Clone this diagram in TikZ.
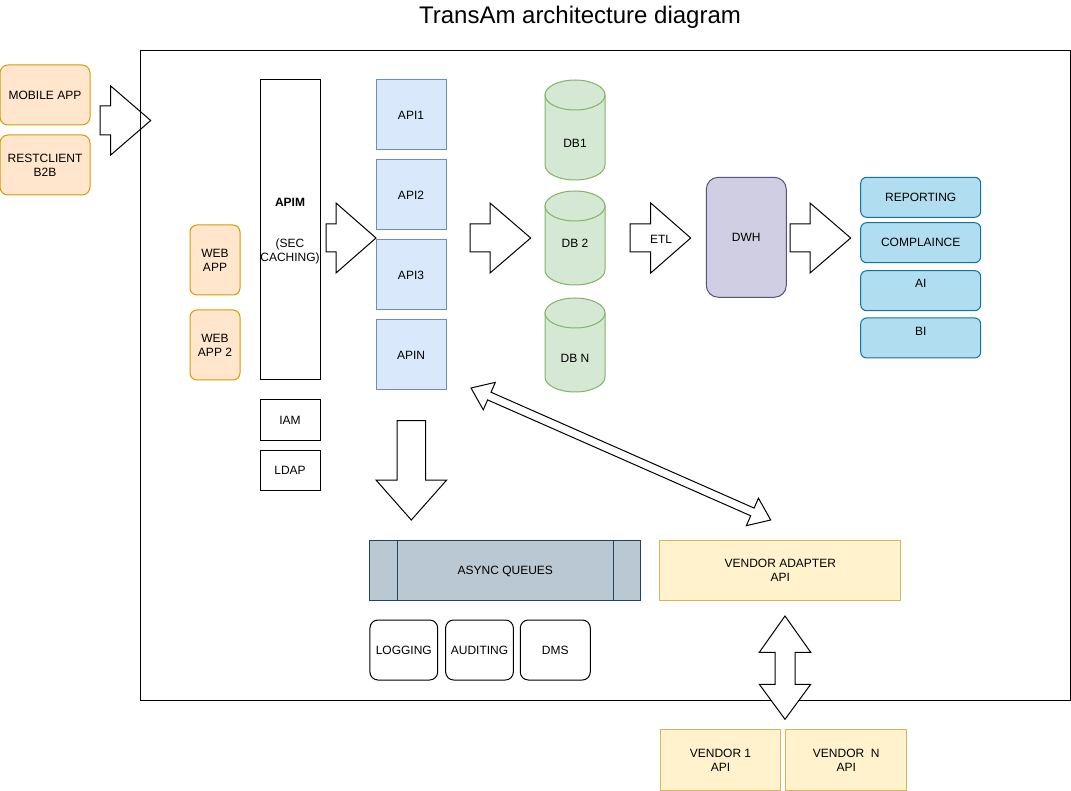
\documentclass[tikz,border=0pt]{standalone}
\usepackage{fontspec}
\setmainfont{Liberation Sans}
\usetikzlibrary{calc}
\definecolor{orF}{HTML}{FFE6CC}\definecolor{orS}{HTML}{D79B00}
\definecolor{blF}{HTML}{DAE8FC}\definecolor{blS}{HTML}{6C8EBF}
\definecolor{grF}{HTML}{D5E8D4}\definecolor{grS}{HTML}{82B366}
\definecolor{puF}{HTML}{D0CEE2}\definecolor{puS}{HTML}{56517E}
\definecolor{cyF}{HTML}{B1DDF0}\definecolor{cyS}{HTML}{10739E}
\definecolor{slF}{HTML}{BAC8D3}\definecolor{slS}{HTML}{23445D}
\definecolor{yeF}{HTML}{FFF2CC}\definecolor{yeS}{HTML}{D6B656}
\tikzset{
  base/.style={line width=1pt, inner sep=0pt, align=center, font=\fontsize{12}{14}\selectfont},
  boxbase/.style={base, text depth=-3.4pt},
  orbox/.style={boxbase, draw=orS, fill=orF, rounded corners=8pt},
  plainbox/.style={boxbase, draw=black, fill=white},
  apibox/.style={boxbase, draw=blS, fill=blF},
  repbox/.style={boxbase, draw=cyS, fill=cyF, rounded corners=6pt},
  yebox/.style={boxbase, draw=yeS, fill=yeF},
  roundbox/.style={boxbase, draw=black, fill=white, rounded corners=8pt},
  blockarrow/.style={line width=1pt, draw=black, fill=white, line join=miter},
  cylbody/.style={line width=1pt, draw=grS, fill=grF},
  txt/.style={base, draw=none, fill=none},
}
\begin{document}
\begin{tikzpicture}[x=1pt,y=-1pt]
\path[use as bounding box] (0,0) rectangle (1071,791);

% title
\node[txt, font=\fontsize{24}{28}\selectfont] (title) at (580,17) {TransAm architecture diagram};

% mobile arrow (behind container)
\draw[blockarrow] (100,106) -- (110.7,106) -- (110.7,86) -- (150.7,120.5) -- (110.7,155) -- (110.7,135) -- (100,135) -- cycle;

% container
\node[base, draw=black, minimum width=930, minimum height=650, anchor=north west] (container) at (140,50) {};

% left clients
\node[orbox, minimum width=90, minimum height=60] (mobile) at (45,95) {MOBILE APP};
\node[orbox, minimum width=90, minimum height=60] (rest) at (45,165) {RESTCLIENT\\B2B};
\node[orbox, minimum width=50, minimum height=70, rounded corners=7pt] (web1) at (215,260) {WEB\\APP};
\node[orbox, minimum width=50, minimum height=70, rounded corners=7pt] (web2) at (215,345) {WEB\\APP 2};

% APIM
\node[plainbox, minimum width=60, minimum height=300] (apim) at (290,230) {};
\node[txt] (apimT) at (290,202) {\textbf{APIM}};
\node[txt] (apimS) at (290,251.5) {(SEC\\CACHING)};
\node[plainbox, minimum width=60, minimum height=40] (iam) at (290,420) {IAM};
\node[plainbox, minimum width=60, minimum height=40] (ldap) at (290,470) {LDAP};

% APIM -> API arrow
\draw[blockarrow] (326,224) -- (336,224) -- (336,203) -- (376,238) -- (336,273) -- (336,252) -- (326,252) -- cycle;

% APIs
\node[apibox, minimum width=70, minimum height=70] (api1) at (411,115) {API1};
\node[apibox, minimum width=70, minimum height=70] (api2) at (411,195) {API2};
\node[apibox, minimum width=70, minimum height=70] (api3) at (411,275) {API3};
\node[apibox, minimum width=70, minimum height=70] (apin) at (411,355) {APIN};

% API -> DB arrow
\draw[blockarrow] (470,224) -- (490,224) -- (490,203) -- (530.7,238) -- (490,273) -- (490,252) -- (470,252) -- cycle;

% cylinders
\foreach \nm/\ya/\yb/\ty/\lab in {db1/80/180/143/DB1, db2/191/285/243/DB 2, dbn/298/392/358/DB N}{
  \pgfmathsetmacro{\yt}{\ya+15}
  \pgfmathsetmacro{\ybb}{\yb-15}
  \pgfmathsetmacro{\ybc}{\yb-15+8.28}
  \path[cylbody] (545,\yt) -- (545,\ybb) .. controls (545,\ybc) and (558.4,\yb) .. (575,\yb) .. controls (591.6,\yb) and (605,\ybc) .. (605,\ybb) -- (605,\yt) -- cycle;
  \path[cylbody] (575,\yt) ellipse [x radius=30, y radius=15];
  \node[txt] (\nm) at (575,\ty) {\lab};
}

% ETL arrow
\draw[blockarrow] (630,224) -- (650.7,224) -- (650.7,203) -- (690.7,238) -- (650.7,273) -- (650.7,252) -- (630,252) -- cycle;
\node[txt] (etl) at (661,239) {ETL};

% DWH
\node[boxbase, draw=puS, fill=puF, rounded corners=12pt, minimum width=80, minimum height=120] (dwh) at (746.3,237.3) {DWH};

% DWH -> reports arrow
\draw[blockarrow] (790,224) -- (810,224) -- (810,203) -- (850.7,238) -- (810,273) -- (810,252) -- (790,252) -- cycle;

% reports
\node[repbox, minimum width=120, minimum height=40] (rep) at (920.7,197.3) {REPORTING};
\node[repbox, minimum width=120, minimum height=40] (comp) at (920.7,242.7) {COMPLAINCE};
\node[repbox, minimum width=120, minimum height=40] (ai) at (920.7,290.7) {};
\node[txt] (aiT) at (920.7,283.5) {AI};
\node[repbox, minimum width=120, minimum height=40] (bi) at (920.7,338) {};
\node[txt] (biT) at (920.7,331) {BI};

% down arrow to queues
\draw[blockarrow] (397,420.7) -- (425.7,420.7) -- (425.7,480) -- (446.7,480) -- (411.3,520) -- (376,480) -- (397,480) -- cycle;

% async queues
\node[boxbase, draw=slS, fill=slF, minimum width=270.7, minimum height=60] (queues) at (505.3,570.3) {ASYNC QUEUES};
\draw[line width=1pt, draw=slS] (397.3,540.3) -- (397.3,600.3) (613.3,540.3) -- (613.3,600.3);

% bottom services
\node[roundbox, minimum width=67.7, minimum height=60] (logging) at (403.8,650) {LOGGING};
\node[roundbox, minimum width=67.7, minimum height=60] (auditing) at (479.5,650) {AUDITING};
\node[roundbox, minimum width=70, minimum height=60] (dms) at (555.3,650) {DMS};

% vendor adapter
\node[yebox, minimum width=240.7, minimum height=60] (adapter) at (780.3,570.2) {VENDOR ADAPTER\\API};

% diagonal double arrow
\coordinate (dA) at (471,388);
\coordinate (dB) at (770.7,520);
\coordinate (hA) at ($(dA)!20pt!(dB)$);
\coordinate (hB) at ($(dB)!20pt!(dA)$);
\draw[blockarrow] (dA) -- ($(hA)!15pt!90:(dB)$) -- ($(hA)!4.2pt!90:(dB)$) -- ($(hB)!4.2pt!-90:(dA)$) -- ($(hB)!15pt!-90:(dA)$) -- (dB) -- ($(hB)!15pt!90:(dA)$) -- ($(hB)!4.2pt!90:(dA)$) -- ($(hA)!4.2pt!-90:(dB)$) -- ($(hA)!15pt!-90:(dB)$) -- cycle;

% vertical double arrow
\draw[blockarrow] (785,616) -- (810.7,652.3) -- (795,652.3) -- (795,684.3) -- (810.7,684.3) -- (785,719.3) -- (759.3,684.3) -- (775,684.3) -- (775,652.3) -- (759.3,652.3) -- cycle;

% vendors
\node[yebox, minimum width=120.4, minimum height=60.7] (v1) at (720.5,760.3) {VENDOR 1\\API};
\node[yebox, minimum width=120.7, minimum height=60.7] (vn) at (846.3,760.3) {VENDOR\ \ N\\API};
\end{tikzpicture}
\end{document}
